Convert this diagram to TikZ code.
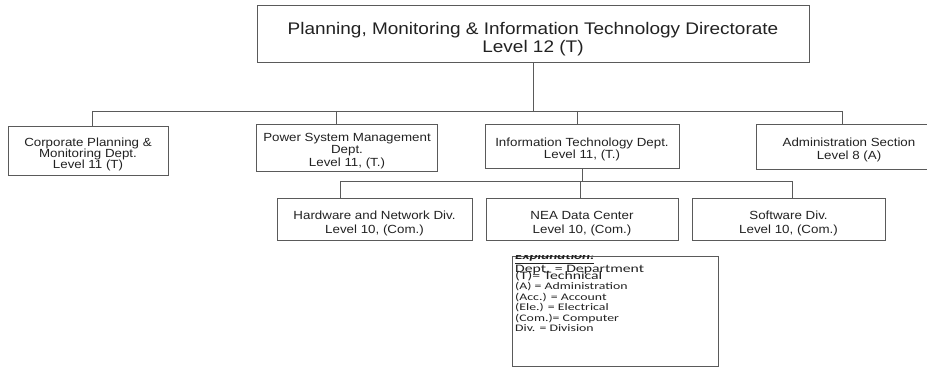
\documentclass[tikz,border=0pt]{standalone}
\usepackage{fontspec}
\setmainfont{Liberation Sans}[FakeStretch=1.13]
\newfontfamily\expfont{Carlito}[FakeStretch=1.38]
\definecolor{linec}{HTML}{5A5A5A}
\definecolor{textc}{HTML}{222222}
\begin{document}
\begin{tikzpicture}[x=1pt,y=-1pt,
  orgbox/.style={draw=linec, line width=0.9pt, inner sep=0pt},
  orgtext/.style={inner sep=0pt, align=center, text=textc, yshift=-3.5pt,
    font=\fontsize{11.8}{11.6}\selectfont},
  conn/.style={draw=linec, line width=0.9pt},
  exptext/.style={anchor=base west, inner sep=0pt, text=textc, font=\expfont\fontsize{10}{10}\selectfont},
  expbig/.style={exptext, font=\expfont\fontsize{11.4}{11}\selectfont}]
\useasboundingbox[fill=white] (0,0) rectangle (927,377);

% top box
\node[orgbox, minimum width=552pt, minimum height=57pt] (top) at (533,33.5) {};
\node[orgtext, yshift=-2.5pt, font=\fontsize{16.8}{18}\selectfont] (toptext) at (top.center)
  {Planning, Monitoring \& Information Technology Directorate\\Level 12 (T)};

% level 11 boxes
\node[orgbox, minimum width=160pt, minimum height=49pt] (b1) at (88,150.5) {};
\node[orgtext, font=\fontsize{11.8}{11}\selectfont] (b1text) at (b1.center)
  {Corporate Planning \&\\Monitoring Dept.\\Level 11 (T)};
\node[orgbox, minimum width=181pt, minimum height=47pt] (b2) at (347,147.5) {};
\node[orgtext, font=\fontsize{11.8}{12.6}\selectfont] (b2text) at (b2.center)
  {Power System Management\\Dept.\\Level 11, (T.)};
\node[orgbox, minimum width=194pt, minimum height=44pt] (it) at (582,146) {};
\node[orgtext, font=\fontsize{11.8}{12.3}\selectfont] (ittext) at (it.center)
  {Information Technology Dept.\\Level 11, (T.)};
\node[orgbox, minimum width=186pt, minimum height=45pt] (b4) at (849,146.5) {};
\node[orgtext, font=\fontsize{11.8}{12.3}\selectfont] (b4text) at (b4.center)
  {Administration Section\\Level 8 (A)};

% level 10 boxes
\node[orgbox, minimum width=195pt, minimum height=42pt] (hw) at (374.5,219) {};
\node[orgtext, yshift=-1pt, font=\fontsize{11.8}{13.5}\selectfont] (hwtext) at (hw.center)
  {Hardware and Network Div.\\Level 10, (Com.)};
\node[orgbox, minimum width=192pt, minimum height=42pt] (nea) at (582,219) {};
\node[orgtext, yshift=-1pt, font=\fontsize{11.8}{13.5}\selectfont] (neatext) at (nea.center)
  {NEA Data Center\\Level 10, (Com.)};
\node[orgbox, minimum width=193pt, minimum height=42pt] (sw) at (788.5,219) {};
\node[orgtext, yshift=-1pt, font=\fontsize{11.8}{13.5}\selectfont] (swtext) at (sw.center)
  {Software Div.\\Level 10, (Com.)};

% upper bus
\coordinate (busL) at (92,111);
\coordinate (busR) at (842,111);
\coordinate (d2) at (336,111);
\coordinate (d3) at (577,111);
\draw[conn] (top.south) -- (top.south |- busL);
\draw[conn] (busL) -- (busR);
\draw[conn] (busL) -- (busL |- b1.north);
\draw[conn] (d2) -- (d2 |- b2.north);
\draw[conn] (d3) -- (d3 |- it.north);
\draw[conn] (busR) -- (busR |- b4.north);

% lower bus
\coordinate (lbL) at (340,181.5);
\coordinate (lbM) at (580,181.5);
\coordinate (lbR) at (792,181.5);
\draw[conn] (it.south) -- (it.south |- lbL);
\draw[conn] (lbL) -- (lbR);
\draw[conn] (lbL) -- (lbL |- hw.north);
\draw[conn] (lbM) -- (lbM |- nea.north);
\draw[conn] (lbR) -- (lbR |- sw.north);

% explanation box
\node[draw=linec, line width=0.9pt, minimum width=206pt, minimum height=110pt, inner sep=0pt] (exp) at (615,311) {};
\begin{scope}
\clip (exp.north west) rectangle (exp.south east);
\node[exptext, font=\expfont\bfseries\itshape\fontsize{11}{10}\selectfont] (e0) at (515,259.8) {\underline{Explanation:}};
\node[expbig] (e1) at (515,272.7) {Dept. = Department};
\node[expbig] (e2) at (515,279.3) {(T)= Technical};
\node[exptext] (e3) at (515,289.5) {(A) = Administration};
\node[exptext] (e4) at (515,300) {(Acc.) = Account};
\node[exptext] (e5) at (515,310.5) {(Ele.) = Electrical};
\node[exptext] (e6) at (515,321) {(Com.)= Computer};
\node[exptext] (e7) at (515,331.5) {Div. = Division};
\end{scope}
\end{tikzpicture}
\end{document}
